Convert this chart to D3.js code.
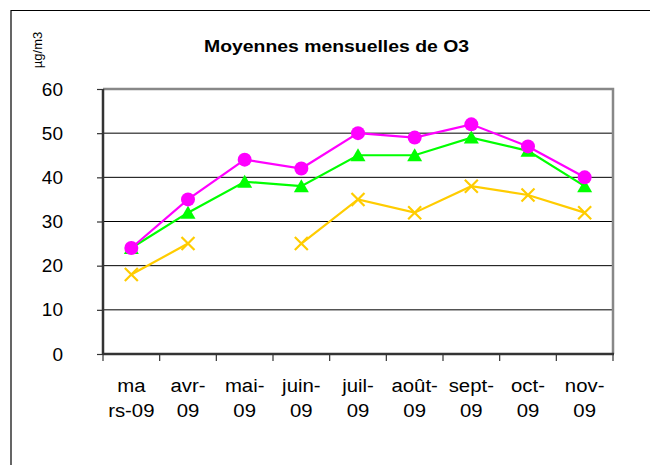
<!DOCTYPE html>
<html><head><meta charset="utf-8">
<script src="https://cdn.jsdelivr.net/npm/d3@7"></script>
<style>body{margin:0;background:#fff}svg{display:block;font-family:"Liberation Sans",Arial,sans-serif}</style>
</head><body><svg id="c" width="650" height="465"></svg>
<script>
const categories = [["ma","rs-09"],["avr-","09"],["mai-","09"],["juin-","09"],["juil-","09"],["août-","09"],["sept-","09"],["oct-","09"],["nov-","09"]];
const seriesMagenta = [24, 35, 44, 42, 50, 49, 52, 47, 40];
const seriesGreen = [24, 32, 39, 38, 45, 45, 49, 46, 38];
const seriesYellow = [18, 25, null, 25, 35, 32, 38, 36, 32];
const yTicks = [0, 10, 20, 30, 40, 50, 60];
const title = "Moyennes mensuelles de O3";
const unit = "µg/m3";

const svg = d3.select("#c");
const keys = categories.map((c, i) => i);
const x = d3.scaleBand().domain(keys).range([103, 613]);
const y = d3.scaleLinear().domain([0, 60]).range([354, 89]);

// outer frame
svg.append("path").attr("d", "M11,470V10.5H660").attr("fill", "none").attr("stroke", "#000").attr("stroke-width", 1.2);

// title
svg.append("text").attr("x", 336.5).attr("y", 52).attr("text-anchor", "middle")
  .attr("font-size", 17).attr("font-weight", "bold").attr("textLength", 265)
  .attr("lengthAdjust", "spacingAndGlyphs").text(title);

// unit
svg.append("text").attr("transform", "translate(42,50) rotate(-90)").attr("text-anchor", "middle")
  .attr("font-size", 13).text(unit);

// gridlines
svg.append("g").selectAll("line").data(yTicks.filter(t => t > 0 && t < 60)).join("line")
  .attr("x1", 103).attr("x2", 613).attr("y1", d => y(d)).attr("y2", d => y(d))
  .attr("stroke", "#000").attr("stroke-width", 1);

// plot border (top & right)
svg.append("path").attr("d", `M103,${y(60)}H613V${y(0)}`).attr("fill", "none")
  .attr("stroke", "#888").attr("stroke-width", 2.5);

// y axis
const yAxis = d3.axisLeft(y).tickValues(yTicks).tickSize(6).tickPadding(34);
const gy = svg.append("g").attr("transform", "translate(103,0)").call(yAxis);
gy.select(".domain").remove();
gy.selectAll(".tick line").attr("stroke", "#333").attr("stroke-width", 1.2);
gy.selectAll(".tick text").attr("font-size", 19).attr("font-family", "Liberation Sans, Arial, sans-serif").attr("fill", "#000");
svg.append("line").attr("x1", 103).attr("x2", 103).attr("y1", y(60)).attr("y2", y(0)).attr("stroke", "#333").attr("stroke-width", 2.5);

// x axis
const bounds = keys.map(k => x(k)).concat([x.range()[1]]);
svg.append("g").selectAll("line").data(bounds).join("line")
  .attr("x1", d => d).attr("x2", d => d).attr("y1", y(0)).attr("y2", y(0) + 7)
  .attr("stroke", "#333").attr("stroke-width", 1.2);
svg.append("line").attr("x1", 103).attr("x2", 614).attr("y1", y(0)).attr("y2", y(0)).attr("stroke", "#333").attr("stroke-width", 2.5);

const xl = svg.append("g");
categories.forEach((c, i) => {
  c.forEach((line, j) => {
    const t = xl.append("text").attr("x", x(i) + x.bandwidth() / 2).attr("y", 392 + j * 25)
      .attr("text-anchor", "middle").attr("font-size", 18).text(line);
    const w = t.node().getComputedTextLength();
    t.attr("textLength", w * 1.13).attr("lengthAdjust", "spacingAndGlyphs");
  });
});

const cx = i => x(i) + x.bandwidth() / 2;
const line = d3.line().defined(d => d != null).x((d, i) => cx(i)).y(d => y(d));

// yellow series
svg.append("path").datum(seriesYellow).attr("d", line).attr("fill", "none").attr("stroke", "#FFCC00").attr("stroke-width", 2.2);
svg.append("g").selectAll("path").data(seriesYellow.map((v, i) => ({v, i})).filter(d => d.v != null)).join("path")
  .attr("d", d => { const px = cx(d.i), py = y(d.v), s = 6.5; return `M${px-s},${py-s}L${px+s},${py+s}M${px-s},${py+s}L${px+s},${py-s}`; })
  .attr("stroke", "#FFCC00").attr("stroke-width", 2.2).attr("fill", "none");

// green series
svg.append("path").datum(seriesGreen).attr("d", line).attr("fill", "none").attr("stroke", "#00FF00").attr("stroke-width", 2.2);
svg.append("g").selectAll("path").data(seriesGreen.map((v, i) => ({v, i}))).join("path")
  .attr("d", d => { const px = cx(d.i), py = y(d.v); return `M${px},${py-7}L${px+7.5},${py+6}L${px-7.5},${py+6}Z`; })
  .attr("fill", "#00FF00");

// magenta series
svg.append("path").datum(seriesMagenta).attr("d", line).attr("fill", "none").attr("stroke", "#FF00FF").attr("stroke-width", 2.2);
svg.append("g").selectAll("circle").data(seriesMagenta.map((v, i) => ({v, i}))).join("circle")
  .attr("cx", d => cx(d.i)).attr("cy", d => y(d.v)).attr("r", 7).attr("fill", "#FF00FF");
</script></body></html>
